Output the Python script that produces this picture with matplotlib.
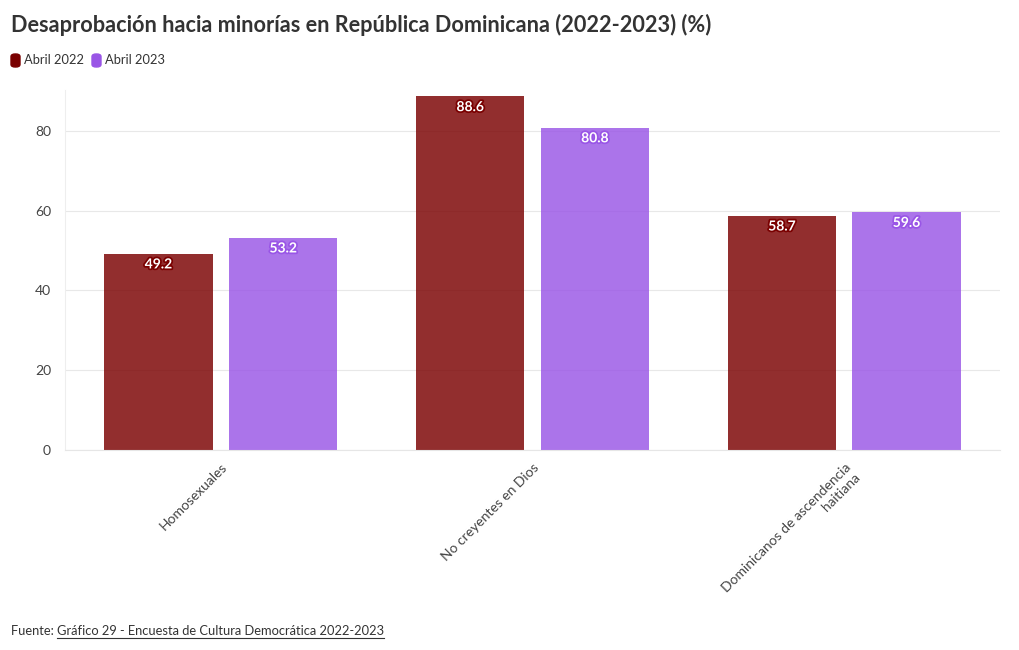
import matplotlib
matplotlib.use("Agg")
import matplotlib.pyplot as plt
import matplotlib.patheffects as pe
from matplotlib.lines import Line2D
from matplotlib.patches import FancyBboxPatch
import numpy as np

plt.rcParams['font.family'] = ['Lato', 'DejaVu Sans']

categories = ["Homosexuales", "No creyentes en Dios", "Dominicanos de ascendencia\nhaitiana"]
series_names = ["Abril 2022", "Abril 2023"]
abril_2022 = [49.2, 88.6, 58.7]
abril_2023 = [53.2, 80.8, 59.6]
colors = ["#7a0000", "#9955e6"]
y_ticks = [0, 20, 40, 60, 80]

fig = plt.figure(figsize=(10.2, 6.5), dpi=100)
ax = fig.add_axes([65 / 1020, 1 - 450 / 650, 935 / 1020, 360 / 650])

x = np.arange(len(categories))
width = 0.347
offset = 0.2
for i, (vals, col) in enumerate(zip([abril_2022, abril_2023], colors)):
    pos = x + (-offset if i == 0 else offset)
    ax.bar(pos, vals, width, color=col, alpha=0.82, zorder=2)
    for p, v in zip(pos, vals):
        ax.text(p, v - 1.2, f"{v}", ha="center", va="top", color="white",
                fontsize=10, fontweight="bold", zorder=3,
                path_effects=[pe.withStroke(linewidth=2.5, foreground=col)])

ax.set_xlim(-0.5, 2.5)
ax.set_ylim(0, 90.2)
ax.set_yticks(y_ticks)
ax.set_yticklabels([str(t) for t in y_ticks], fontsize=10, color="#444444")
ax.tick_params(axis="y", length=0, pad=10)
ax.grid(axis="y", color="#e8e8e8", linewidth=0.8, zorder=0)
ax.set_xticks(x)
ax.set_xticklabels(categories, rotation=45, ha="right", rotation_mode="anchor",
                   fontsize=10, color="#444444", multialignment="right")
ax.tick_params(axis="x", length=0, pad=8)
for s in ["top", "right"]:
    ax.spines[s].set_visible(False)
ax.spines["left"].set_color("#eeeeee")
ax.spines["bottom"].set_color("#e6e6e6")

fig.text(11 / 1020, 1 - 25 / 650,
         "Desaprobación hacia minorías en República Dominicana (2022-2023) (%)",
         fontsize=15.6, fontweight="bold", color="#333333", va="center")

# legend
lx = 11
for name, col in zip(series_names, colors):
    box = FancyBboxPatch((lx / 1020, 1 - 67 / 650), 9 / 1020, 13 / 650,
                         boxstyle="round,pad=0,rounding_size=0.004",
                         transform=fig.transFigure, color=col, clip_on=False)
    fig.patches.append(box)
    t = fig.text((lx + 13) / 1020, 1 - 60 / 650, name, fontsize=9.3,
                 color="#333333", va="center")
    fig.canvas.draw()
    bb = t.get_window_extent()
    lx = bb.x1 + 8

# footer
t1 = fig.text(11 / 1020, 1 - 631 / 650, "Fuente: ", fontsize=9.3,
              color="#333333", va="center")
fig.canvas.draw()
bb = t1.get_window_extent()
t2 = fig.text(bb.x1 / 1020, 1 - 631 / 650,
              "Gráfico 29 - Encuesta de Cultura Democrática 2022-2023",
              fontsize=9.3, color="#333333", va="center")
fig.canvas.draw()
bb2 = t2.get_window_extent()
fig.add_artist(Line2D([bb2.x0 / 1020, bb2.x1 / 1020],
                      [(bb2.y0 - 1) / 650, (bb2.y0 - 1) / 650],
                      transform=fig.transFigure, color="#333333", linewidth=0.8))

fig.savefig("out.png", dpi=100)
